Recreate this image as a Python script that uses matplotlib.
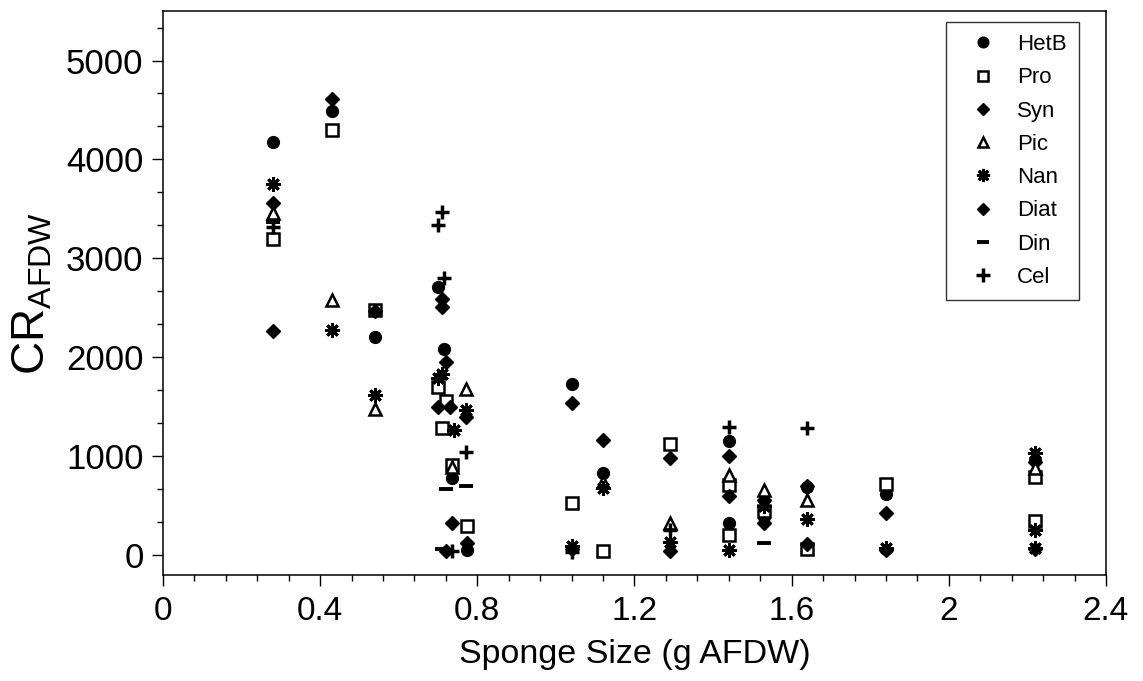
import matplotlib
matplotlib.use("Agg")
import matplotlib.pyplot as plt
from matplotlib.ticker import MultipleLocator, AutoMinorLocator

plt.rcParams["font.family"] = ["Liberation Sans", "DejaVu Sans"]

# ---------- clearance rate vs sponge size, per prey group ----------
hetb_x = [0.28, 0.43, 0.54, 0.70, 0.715, 0.735, 0.775, 1.04, 1.12, 1.44, 1.44, 1.53, 1.64, 1.84, 2.22]
hetb_y = [4180, 4490, 2210, 2710, 2080, 780, 50, 1730, 830, 1150, 330, 390, 690, 620, 960]

pro_x = [0.28, 0.43, 0.54, 0.70, 0.72, 0.71, 0.735, 0.775, 1.04, 1.12, 1.29, 1.44, 1.44, 1.53, 1.64, 1.84, 2.22, 2.22]
pro_y = [3200, 4300, 2480, 1700, 1560, 1290, 910, 290, 530, 40, 1120, 710, 200, 450, 60, 720, 790, 350]

syn_x = [0.28, 0.43, 0.54, 0.71, 0.72, 0.70, 0.775, 1.04, 1.12, 1.29, 1.44, 1.53, 1.64, 1.84, 2.22]
syn_y = [3560, 4610, 2470, 2590, 1950, 1500, 120, 1540, 1160, 980, 1000, 560, 700, 430, 940]

pic_x = [0.28, 0.43, 0.54, 0.77, 0.735, 1.12, 1.29, 1.44, 1.53, 1.64, 2.22]
pic_y = [3460, 2580, 1480, 1680, 890, 740, 330, 810, 660, 560, 880]

nan_x = [0.28, 0.43, 0.54, 0.71, 0.70, 0.74, 0.77, 1.04, 1.12, 1.29, 1.44, 1.53, 1.64, 1.84, 2.22, 2.22, 2.22]
nan_y = [3750, 2280, 1620, 1830, 1790, 1270, 1470, 90, 680, 130, 50, 500, 370, 70, 1030, 250, 70]

diat_x = [0.28, 0.71, 0.73, 0.735, 0.72, 0.77, 1.04, 1.29, 1.44, 1.53, 1.64, 1.84, 2.22]
diat_y = [2270, 2510, 1500, 330, 40, 1400, 60, 40, 600, 330, 110, 50, 60]

din_x = [0.28, 0.72, 0.71, 0.77, 1.53]
din_y = [3370, 670, 60, 700, 120]

cel_x = [0.28, 0.71, 0.70, 0.715, 0.735, 0.77, 1.04, 1.29, 1.44, 1.64]
cel_y = [3320, 3470, 3340, 2800, 40, 1040, 30, 250, 1300, 1290]

fig = plt.figure(figsize=(11.43, 6.81), dpi=100)
ax = fig.add_axes([0.1426, 0.1557, 0.8250, 0.8281])

k = dict(linestyle="none", color="black")
ax.plot(hetb_x, hetb_y, marker="o", markersize=8.5, label="HetB", **k)
ax.plot(pro_x, pro_y, marker="s", markersize=8, markerfacecolor="white",
        markeredgewidth=1.8, label="Pro", **k)
ax.plot(syn_x, syn_y, marker="D", markersize=7, label="Syn", **k)
ax.plot(pic_x, pic_y, marker="^", markersize=8, markerfacecolor="white",
        markeredgewidth=1.8, label="Pic", **k)
ax.plot(nan_x, nan_y, marker=(8, 2, 0), markersize=10.5, markeredgewidth=2.0,
        label="Nan", **k)
ax.plot(diat_x, diat_y, marker="D", markersize=7, label="Diat", **k)
ax.plot(din_x, din_y, marker="_", markersize=10, markeredgewidth=2.8,
        label="Din", **k)
ax.plot(cel_x, cel_y, marker="+", markersize=10.5, markeredgewidth=2.5,
        label="Cel", **k)

ax.set_xlim(0, 2.4)
ax.set_ylim(-200, 5500)
ax.xaxis.set_major_locator(MultipleLocator(0.4))
ax.xaxis.set_minor_locator(AutoMinorLocator(5))
ax.yaxis.set_major_locator(MultipleLocator(1000))
ax.yaxis.set_minor_locator(AutoMinorLocator(3))
ax.set_xticks([0, 0.4, 0.8, 1.2, 1.6, 2.0, 2.4])
ax.set_xticklabels(["0", "0.4", "0.8", "1.2", "1.6", "2", "2.4"])

ax.tick_params(which="major", direction="out", length=8, width=1.0)
ax.tick_params(which="minor", direction="out", length=4, width=1.0)
ax.tick_params(axis="y", labelsize=25, pad=6)
ax.tick_params(axis="x", labelsize=24, pad=7)
for sp in ax.spines.values():
    sp.set_linewidth(1.1)

ax.set_xlabel("Sponge Size (g AFDW)", fontsize=24.5, labelpad=9)
ax.set_ylabel(r"CR$_{\mathregular{AFDW}}$", fontsize=33, labelpad=8)

leg = ax.legend(loc="upper right", bbox_to_anchor=(0.9714, 0.9805),
                borderaxespad=0, fontsize=16, frameon=True, fancybox=False,
                edgecolor="black", handlelength=2.2, handletextpad=0.45,
                borderpad=0.55, labelspacing=0.55, numpoints=1,
                markerscale=0.9)
leg.get_frame().set_linewidth(1.0)

fig.savefig("out.png", dpi=100)
